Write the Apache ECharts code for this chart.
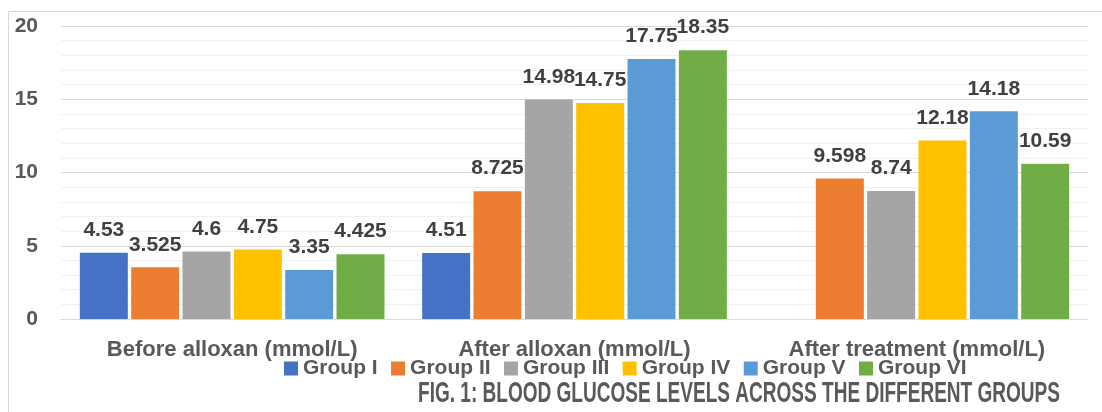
<!DOCTYPE html>
<html><head><meta charset="utf-8">
<script src="https://cdn.jsdelivr.net/npm/echarts@6/dist/echarts.min.js"></script>
<style>html,body{margin:0;padding:0;background:#fff}#c{width:1102px;height:412px}</style>
</head><body><div id="c"></div>
<script>
const categories = ['Before alloxan (mmol/L)', 'After alloxan (mmol/L)', 'After treatment (mmol/L)'];
const groupNames = ['Group I', 'Group II', 'Group III', 'Group IV', 'Group V', 'Group VI'];
const groupI = [4.53, 4.51, null];
const groupII = [3.525, 8.725, 9.598];
const groupIII = [4.6, 14.98, 8.74];
const groupIV = [4.75, 14.75, 12.18];
const groupV = [3.35, 17.75, 14.18];
const groupVI = [4.425, 18.35, 10.59];
const seriesValues = [groupI, groupII, groupIII, groupIV, groupV, groupVI];
const colors = ['#4472C4', '#ED7D31', '#A5A5A5', '#FFC000', '#5B9BD5', '#70AD47'];
const titleText = 'FIG. 1: BLOOD GLUCOSE LEVELS ACROSS THE DIFFERENT GROUPS';

const FONT = '"Liberation Sans", Arial, sans-serif';
// condensed title: measure natural width, then squeeze horizontally to target span
const titleFontSize = 30;
const titleTargetWidth = 642;
const cv = document.createElement('canvas').getContext('2d');
cv.font = 'bold ' + titleFontSize + 'px ' + FONT;
const titleScale = titleTargetWidth / cv.measureText(titleText).width;

const chart = echarts.init(document.getElementById('c'), null, {renderer: 'canvas'});
chart.setOption({
  animation: false,
  color: colors,
  textStyle: {fontFamily: FONT},
  graphic: [
    {type: 'rect', shape: {x: 8.5, y: 11.5, width: 1100, height: 420}, style: {fill: 'none', stroke: '#d9d9d9', lineWidth: 1}, z: -10},
    {type: 'text', x: 418, y: 394, scaleX: titleScale, scaleY: 1,
      style: {text: titleText, x: 0, y: 0, fill: '#595959', font: 'bold ' + titleFontSize + 'px ' + FONT, textVerticalAlign: 'middle', textAlign: 'left'}}
  ],
  legend: {data: groupNames, left: 279, top: 353, itemWidth: 14, itemHeight: 14, itemGap: 13.4, icon: 'rect',
    textStyle: {fontFamily: FONT, fontWeight: 'bold', fontSize: 21, color: '#595959'}},
  grid: {left: 61, right: 14, top: 26, bottom: 93},
  xAxis: {type: 'category', data: categories,
    axisLine: {lineStyle: {color: '#d9d9d9'}}, axisTick: {show: false},
    axisLabel: {margin: 20, fontFamily: FONT, fontWeight: 'bold', fontSize: 22, color: '#595959'}},
  yAxis: {type: 'value', min: 0, max: 20, interval: 5,
    axisLabel: {margin: 23, fontFamily: FONT, fontWeight: 'bold', fontSize: 21, color: '#595959'},
    splitLine: {lineStyle: {color: '#d9d9d9'}},
    minorTick: {show: false, splitNumber: 5},
    minorSplitLine: {show: true, lineStyle: {color: '#f0f0f0'}}},
  series: seriesValues.map((vals, i) => ({
    name: groupNames[i], type: 'bar', data: vals,
    barCategoryGap: '11%', barGap: '7%',
    label: {show: true, position: 'top', distance: 12, fontFamily: FONT, fontWeight: 'bold', fontSize: 21, color: '#404040'}
  }))
});
</script></body></html>
